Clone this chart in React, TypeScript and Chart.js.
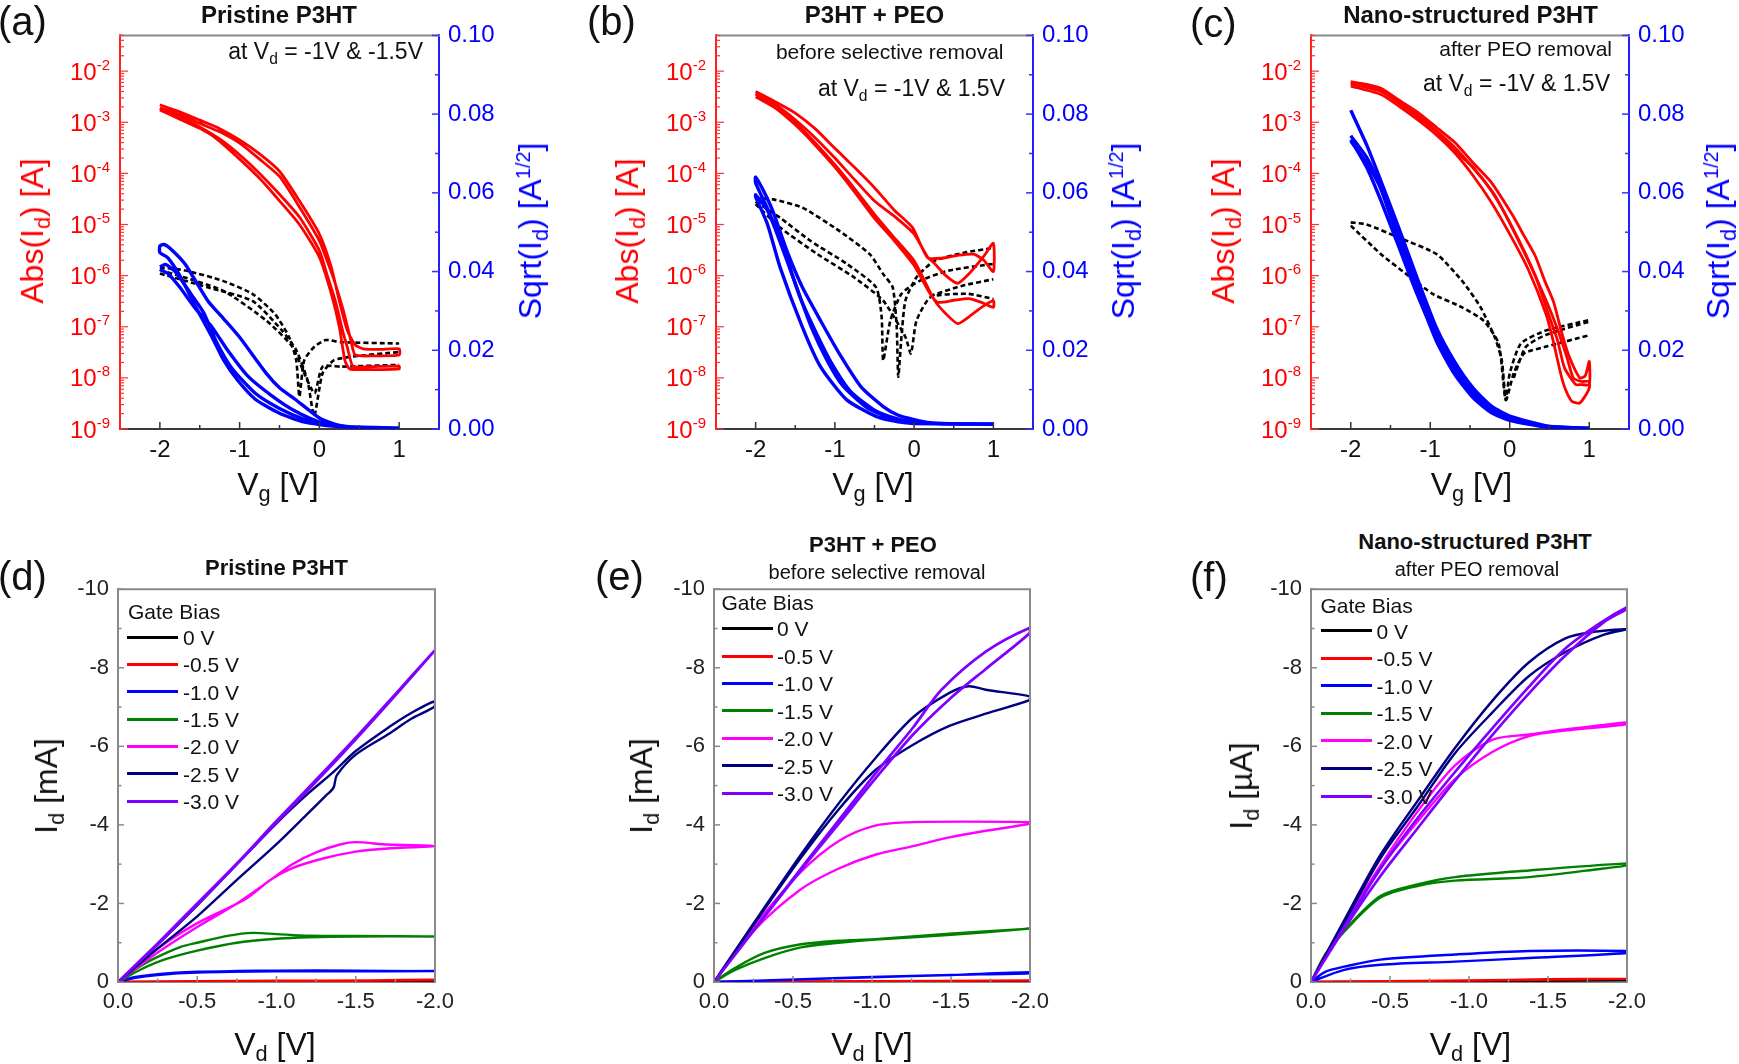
import React, { useEffect, useRef } from "react";
import { Chart, registerables } from "chart.js";

Chart.register(...registerables);

type Pt = [number, number];
const FONT = "'Liberation Sans', Arial, Helvetica, sans-serif";

// ---------------- axis ticks / labels ----------------
const vgTicks = [-2, -1, 0, 1];
const vgMinor = [-1.5, -0.5, 0.5];
const idLogTicks = [1e-9, 1e-8, 1e-7, 1e-6, 1e-5, 1e-4, 1e-3, 1e-2];
const sqrtTicks = [0, 0.02, 0.04, 0.06, 0.08, 0.1];
const sqrtMinor = [0.01, 0.03, 0.05, 0.07, 0.09];
const vdTicks = [0, -0.5, -1, -1.5, -2];
const vdMinor = [-0.25, -0.75, -1.25, -1.75];
const idLinTicks = [0, -2, -4, -6, -8, -10];
const idLinMinor = [-1, -3, -5, -7, -9];
const gateBiasLabels = ["0 V", "-0.5 V", "-1.0 V", "-1.5 V", "-2.0 V", "-2.5 V", "-3.0 V"];
const gateBiasColors = ["#000000", "#ff0000", "#0000ff", "#008000", "#ff00ff", "#000080", "#8000ff"];

// ---------------- (a) Pristine P3HT transfer ----------------
const aRed1: Pt[] = [[-2, 2.2e-3], [-1.75, 1.6e-3], [-1.5, 1.1e-3], [-1.25, 7.5e-4], [-1, 4.5e-4], [-0.75, 2.4e-4], [-0.5, 1.1e-4], [-0.25, 2.9e-5], [0, 6.5e-6], [0.15, 1.45e-6], [0.25, 3.2e-7], [0.35, 8.5e-8], [0.45, 4.4e-8], [0.55, 3.7e-8], [0.75, 3.6e-8], [1, 3.7e-8],
  [1, 2.8e-8], [0.7, 2.7e-8], [0.45, 2.8e-8], [0.4, 5e-8], [0.3, 2.1e-7], [0.2, 6.9e-7], [0.1, 1.9e-6], [0, 4.8e-6], [-0.25, 2.2e-5], [-0.5, 8.7e-5], [-0.75, 1.9e-4], [-1, 3.9e-4], [-1.25, 6.5e-4], [-1.5, 9.5e-4], [-1.75, 1.4e-3], [-2, 1.9e-3]];
const aRed2: Pt[] = [[-2, 1.74e-3], [-1.75, 1.15e-3], [-1.5, 7.6e-4], [-1.3, 4.9e-4], [-1, 1.9e-4], [-0.75, 8e-5], [-0.5, 2.9e-5], [-0.25, 1.0e-5], [0, 2.3e-6], [0.15, 4.4e-7], [0.25, 1.0e-7], [0.32, 2.2e-8], [0.38, 1.5e-8], [0.6, 1.45e-8], [1, 1.5e-8],
  [1, 1.7e-8], [0.6, 1.65e-8], [0.42, 1.7e-8], [0.35, 4e-8], [0.3, 7.4e-8], [0.2, 3.2e-7], [0.1, 1.0e-6], [0, 3.1e-6], [-0.25, 1.4e-5], [-0.5, 3.9e-5], [-0.75, 1.0e-4], [-1, 2.3e-4], [-1.25, 4.7e-4], [-1.5, 8.1e-4], [-1.75, 1.3e-3], [-2, 1.86e-3]];
const aBlue1: Pt[] = [[1, 0.0002], [0.6, 0.0003], [0.4, 0.0005], [0.2, 0.0012], [0, 0.0028], [-0.3, 0.0075], [-0.5, 0.0105], [-0.66, 0.014], [-1, 0.0233], [-1.2, 0.028], [-1.4, 0.0326], [-1.68, 0.0418], [-1.85, 0.0455], [-1.95, 0.0469], [-2, 0.0465],
  [-2, 0.0448], [-1.9, 0.0435], [-1.75, 0.039], [-1.55, 0.031], [-1.35, 0.0235], [-1.2, 0.0175], [-1.03, 0.0125], [-0.8, 0.0075], [-0.5, 0.004], [-0.2, 0.0018], [0.2, 0.0007], [1, 0.0002]];
const aBlue2: Pt[] = [[-2, 0.0412], [-1.93, 0.0418], [-1.8, 0.0398], [-1.6, 0.034], [-1.45, 0.0295], [-1.3, 0.0225], [-1.1, 0.0155], [-0.8, 0.009], [-0.5, 0.0052], [-0.2, 0.0025], [0, 0.0015], [0.5, 0.0003], [1, 0.0002],
  [1, 0.0002], [0.3, 0.0006], [0, 0.0018], [-0.3, 0.0045], [-0.6, 0.0085], [-0.9, 0.0135], [-1.15, 0.02], [-1.35, 0.026], [-1.55, 0.0305], [-1.75, 0.036], [-1.9, 0.0395], [-2, 0.0405]];
const aLeak1: Pt[] = [[-2, 1.45e-6], [-1.68, 1.26e-6], [-1.21, 7.9e-7], [-0.84, 4.4e-7], [-0.56, 1.8e-7], [-0.38, 6.3e-8], [-0.29, 2.2e-8], [-0.25, 4.3e-9], [-0.19, 2.2e-8], [-0.06, 4.1e-8], [0.08, 5.5e-8], [0.27, 5e-8], [1, 4.7e-8]];
const aLeak2: Pt[] = [[-2, 1.1e-6], [-1.4, 5.9e-7], [-0.84, 3.2e-7], [-0.47, 8.5e-8], [-0.29, 3.5e-8], [-0.15, 9.1e-9], [-0.065, 1.8e-9], [0.04, 1.23e-8], [0.18, 2.2e-8], [0.41, 2.6e-8], [1, 3.2e-8]];
const aLeak3: Pt[] = [[-2, 1.3e-6], [-1.21, 5.1e-7], [-0.66, 1.3e-7], [-0.34, 4.1e-8], [-0.19, 1.23e-8], [-0.06, 5e-9], [0.04, 1.66e-8], [0.27, 1.66e-8], [1, 1.8e-8]];

// ---------------- (b) P3HT + PEO transfer ----------------
const bRed1: Pt[] = [[-2, 3.98e-3], [-1.75, 2.5e-3], [-1.5, 1.51e-3], [-1.25, 7.5e-4], [-1, 3.09e-4], [-0.75, 1.3e-4], [-0.5, 5.25e-5], [-0.25, 1.9e-5], [-0.02, 8.7e-6], [0.17, 2.24e-6], [0.35, 2.2e-6], [0.55, 2.5e-6], [0.75, 2.63e-6], [0.88, 2.0e-6], [1, 1.2e-6],
  [1, 4.27e-6], [0.88, 2.4e-6], [0.7, 1.12e-6], [0.55, 7.1e-7], [0.4, 1.0e-6], [0.25, 1.78e-6], [0.17, 2.3e-6], [0, 6.5e-6], [-0.25, 1.45e-5], [-0.5, 2.88e-5], [-0.75, 7.5e-5], [-1, 2.0e-4], [-1.25, 5.0e-4], [-1.5, 1.12e-3], [-1.75, 2.2e-3], [-2, 3.63e-3]];
const bRed2: Pt[] = [[-2, 3.55e-3], [-1.75, 2.1e-3], [-1.5, 1.0e-3], [-1.25, 4.0e-4], [-1, 1.48e-4], [-0.75, 5.0e-5], [-0.5, 1.58e-5], [-0.25, 5.5e-6], [0, 1.95e-6], [0.26, 3.24e-7], [0.4, 1.8e-7], [0.55, 1.15e-7], [0.7, 1.6e-7], [0.85, 2.4e-7], [1, 3.24e-7],
  [1, 2.4e-7], [0.85, 3.0e-7], [0.69, 3.55e-7], [0.5, 3.3e-7], [0.3, 3.0e-7], [0.2, 4.47e-7], [0, 1.58e-6], [-0.25, 4.8e-6], [-0.5, 1.32e-5], [-0.75, 4.3e-5], [-1, 1.32e-4], [-1.25, 3.6e-4], [-1.5, 8.9e-4], [-1.75, 1.9e-3], [-2, 3.16e-3]];
const bBlue1: Pt[] = [[1, 0.0013], [0.5, 0.0013], [0.2, 0.0016], [0, 0.0024], [-0.2, 0.0035], [-0.39, 0.0057], [-0.67, 0.0107], [-0.94, 0.019], [-1.18, 0.0275], [-1.41, 0.036], [-1.6, 0.045], [-1.78, 0.0552], [-1.9, 0.0605], [-2, 0.064],
  [-2, 0.0625], [-1.85, 0.056], [-1.65, 0.046], [-1.45, 0.034], [-1.25, 0.025], [-1.05, 0.017], [-0.8, 0.0095], [-0.5, 0.0048], [-0.2, 0.0025], [0, 0.0018], [0.5, 0.0013], [1, 0.0013]];
const bBlue2: Pt[] = [[1, 0.0012], [0, 0.0016], [-0.3, 0.0028], [-0.6, 0.0055], [-0.9, 0.011], [-1.1, 0.0175], [-1.3, 0.026], [-1.5, 0.037], [-1.7, 0.048], [-1.85, 0.0555], [-2, 0.0595],
  [-2, 0.059], [-1.85, 0.052], [-1.69, 0.041], [-1.41, 0.0259], [-1.18, 0.0158], [-0.85, 0.0074], [-0.48, 0.0032], [-0.2, 0.0018], [0, 0.0014], [1, 0.0012]];
const bLeak1: Pt[] = [[-2, 3.3e-5], [-1.78, 3.1e-5], [-1.41, 2.14e-5], [-0.94, 7.4e-6], [-0.56, 2.63e-6], [-0.39, 1.07e-6], [-0.27, 5.9e-7], [-0.22, 1e-7], [-0.2, 1.05e-8], [-0.16, 6.3e-8], [-0.11, 3.24e-7], [0.03, 9.3e-7], [0.26, 1.95e-6], [0.63, 2.8e-6], [1, 3.5e-6]];
const bLeak2: Pt[] = [[-2, 2.8e-5], [-1.69, 1.35e-5], [-1.31, 4.8e-6], [-0.85, 1.7e-6], [-0.48, 5.9e-7], [-0.41, 1.55e-7], [-0.39, 2.2e-8], [-0.3, 1.32e-7], [-0.16, 4.4e-7], [0.07, 7.9e-7], [0.44, 1.26e-6], [1, 1.7e-6]];
const bLeak3: Pt[] = [[-2, 2.5e-5], [-1.69, 8.7e-6], [-1.22, 2.63e-6], [-0.76, 9.3e-7], [-0.39, 3.24e-7], [-0.11, 6.3e-8], [-0.04, 3.0e-8], [0.03, 1.32e-7], [0.21, 3.8e-7], [0.68, 4.4e-7], [1, 3.5e-7]];
const bLeak4: Pt[] = [[0.2, 4e-7], [0.6, 6.3e-7], [1, 8.5e-7]];

// ---------------- (c) Nano-structured P3HT transfer ----------------
const cRed1: Pt[] = [[-2, 6.2e-3], [-1.8, 5.5e-3], [-1.62, 4.6e-3], [-1.4, 2.75e-3], [-1.16, 1.58e-3], [-0.92, 7.9e-4], [-0.69, 4.0e-4], [-0.46, 1.6e-4], [-0.23, 6.6e-5], [0.04, 1.48e-5], [0.18, 6.0e-6], [0.32, 2.45e-6], [0.44, 7.9e-7], [0.55, 3.1e-7], [0.65, 8e-8], [0.74, 2.8e-8], [0.88, 1.0e-8], [0.95, 1.1e-8], [1, 2.1e-8],
  [1, 7.4e-9], [0.9, 7.4e-9], [0.83, 7.4e-9], [0.69, 1.55e-8], [0.6, 5.5e-8], [0.506, 1.45e-7], [0.32, 1.0e-6], [0.044, 8.1e-6], [-0.23, 4.5e-5], [-0.46, 1.3e-4], [-0.69, 2.8e-4], [-0.92, 6.5e-4], [-1.16, 1.26e-3], [-1.4, 2.4e-3], [-1.62, 4.0e-3], [-2, 5.6e-3]];
const cRed2: Pt[] = [[-2, 5.1e-3], [-1.62, 3.5e-3], [-1.4, 2.1e-3], [-1.16, 1.12e-3], [-0.92, 5.6e-4], [-0.69, 2.5e-4], [-0.46, 9e-5], [-0.23, 2.7e-5], [0, 6.5e-6], [0.23, 1.35e-6], [0.46, 1.7e-7], [0.55, 5e-8], [0.644, 1.15e-8], [0.7, 6e-9], [0.78, 3.5e-9], [0.875, 3.2e-9], [0.94, 4.2e-9], [1, 6.3e-9],
  [1, 8.5e-9], [0.9, 8.5e-9], [0.8, 1.0e-8], [0.72, 2.5e-8], [0.6, 9e-8], [0.45, 3.5e-7], [0.2, 2.5e-6], [-0.2, 4.0e-5], [-0.69, 3.2e-4], [-1.16, 1.4e-3], [-1.62, 4.2e-3], [-2, 5.9e-3]];
const cBlue1: Pt[] = [[-2, 0.081], [-1.8, 0.0722], [-1.62, 0.063], [-1.39, 0.0508], [-1.16, 0.0381], [-0.92, 0.0256], [-0.69, 0.017], [-0.46, 0.0104], [-0.23, 0.0058], [0, 0.0033], [0.46, 0.0008], [1, 0.0002],
  [1, 0.0002], [0.46, 0.0005], [0, 0.0022], [-0.23, 0.0041], [-0.46, 0.0079], [-0.69, 0.0138], [-0.92, 0.0222], [-1.16, 0.0346], [-1.39, 0.0474], [-1.62, 0.0609], [-1.8, 0.0676], [-2, 0.0732]];
const cBlue2: Pt[] = [[-2, 0.0735], [-1.8, 0.0665], [-1.62, 0.058], [-1.39, 0.046], [-1.16, 0.034], [-0.92, 0.023], [-0.69, 0.0148], [-0.46, 0.0088], [-0.23, 0.0048], [0, 0.0026], [0.46, 0.0006], [1, 0.0002],
  [1, 0.0002], [0.46, 0.0007], [0, 0.003], [-0.23, 0.0053], [-0.46, 0.0096], [-0.69, 0.016], [-0.92, 0.0245], [-1.16, 0.0365], [-1.39, 0.0495], [-1.62, 0.0615], [-1.8, 0.069], [-2, 0.0745]];
const cLeak1: Pt[] = [[-2, 1.1e-5], [-1.8, 1e-5], [-1.39, 5.5e-6], [-0.92, 2.63e-6], [-0.6, 7.9e-7], [-0.37, 2.45e-7], [-0.19, 6.3e-8], [-0.1, 2.2e-8], [-0.05, 3.7e-9], [0, 1.23e-8], [0.14, 4.7e-8], [0.46, 8.5e-8], [1, 1.35e-7]];
const cLeak2: Pt[] = [[-2, 9.5e-6], [-1.62, 2.63e-6], [-1.25, 9.3e-7], [-0.97, 4.4e-7], [-0.6, 2.4e-7], [-0.33, 1.32e-7], [-0.14, 4.7e-8], [-0.05, 3.7e-9], [0.05, 1.23e-8], [0.18, 3e-8], [0.46, 4.1e-8], [1, 6.8e-8]];
const cLeak3: Pt[] = [[0.05, 1.0e-8], [0.2, 4.0e-8], [0.46, 7.0e-8], [1, 1.26e-7]];

// ---------------- (d) Pristine P3HT output (mA) ----------------
const dG0: Pt[] = [[0, 0], [-1, -0.01], [-2, -0.015], [-1, -0.01], [0, 0]];
const dG05: Pt[] = [[0, 0], [-0.5, -0.02], [-1, -0.03], [-1.6, -0.04], [-2, -0.06], [-2, -0.05], [-1, -0.02], [0, 0]];
const dG10: Pt[] = [[0, 0], [-0.1, -0.12], [-0.25, -0.2], [-0.5, -0.26], [-0.75, -0.28], [-1, -0.29], [-1.5, -0.29], [-2, -0.28], [-1.5, -0.27], [-1, -0.27], [-0.5, -0.24], [-0.25, -0.18], [-0.1, -0.1], [0, 0]];
const dG15: Pt[] = [[0, 0], [-0.12, -0.35], [-0.23, -0.6], [-0.4, -0.9], [-0.5, -1.0], [-0.7, -1.18], [-0.85, -1.25], [-1, -1.22], [-1.2, -1.18], [-1.5, -1.17], [-2, -1.16],
  [-1.5, -1.16], [-1.2, -1.14], [-1, -1.1], [-0.75, -1.0], [-0.5, -0.8], [-0.3, -0.58], [-0.15, -0.33], [0, 0]];
const dG20: Pt[] = [[0, 0], [-0.25, -0.75], [-0.5, -1.4], [-0.75, -2.0], [-0.97, -2.62], [-1.1, -3.0], [-1.25, -3.3], [-1.4, -3.5], [-1.5, -3.56], [-1.7, -3.5], [-2, -3.46],
  [-1.7, -3.4], [-1.5, -3.32], [-1.3, -3.15], [-1.1, -2.9], [-0.97, -2.62], [-0.8, -2.1], [-0.5, -1.5], [-0.25, -0.85], [0, 0]];
const dG25: Pt[] = [[0, 0], [-0.25, -0.85], [-0.5, -1.67], [-0.75, -2.6], [-1, -3.51], [-1.2, -4.3], [-1.31, -4.74], [-1.36, -4.95], [-1.38, -5.26], [-1.5, -5.79], [-1.71, -6.32], [-1.85, -6.7], [-2, -7.02],
  [-2, -7.15], [-1.85, -6.85], [-1.71, -6.49], [-1.5, -5.88], [-1.36, -5.35], [-1.2, -4.8], [-1, -4.04], [-0.75, -3.0], [-0.5, -1.95], [-0.25, -0.95], [0, 0]];
const dG30: Pt[] = [[0, 0], [-0.25, -0.98], [-0.5, -2.0], [-0.75, -3.02], [-1, -4.1], [-1.25, -5.15], [-1.5, -6.22], [-1.75, -7.33], [-2, -8.45],
  [-1.75, -7.3], [-1.5, -6.18], [-1.25, -5.1], [-1, -4.06], [-0.75, -3.0], [-0.5, -1.97], [-0.25, -0.96], [0, 0]];

// ---------------- (e) P3HT + PEO output (mA) ----------------
const eG0: Pt[] = [[0, 0], [-1, -0.01], [-2, -0.01], [-1, -0.01], [0, 0]];
const eG05: Pt[] = [[0, 0], [-1, -0.02], [-2, -0.04], [-1, -0.02], [0, 0]];
const eG10: Pt[] = [[0, 0], [-0.32, -0.04], [-1, -0.13], [-1.5, -0.18], [-2, -0.22], [-2, -0.25], [-1.5, -0.18], [-1, -0.12], [-0.32, -0.04], [0, 0]];
const eG15: Pt[] = [[0, 0], [-0.13, -0.35], [-0.32, -0.74], [-0.55, -0.96], [-0.79, -1.05], [-1.02, -1.09], [-1.49, -1.23], [-2, -1.36],
  [-1.5, -1.2], [-1.02, -1.08], [-0.79, -1.0], [-0.55, -0.88], [-0.32, -0.61], [-0.13, -0.3], [0, 0]];
const eG20: Pt[] = [[0, 0], [-0.25, -1.4], [-0.55, -2.8], [-0.79, -3.59], [-1.02, -3.98], [-1.26, -4.07], [-2, -4.07],
  [-2, -4.03], [-1.72, -3.85], [-1.49, -3.68], [-1.26, -3.46], [-1.02, -3.24], [-0.79, -2.89], [-0.55, -2.36], [-0.25, -1.3], [0, 0]];
const eG25: Pt[] = [[0, 0], [-0.25, -1.49], [-0.55, -3.24], [-0.79, -4.55], [-1.02, -5.69], [-1.26, -6.74], [-1.49, -7.36], [-1.61, -7.53], [-1.72, -7.44], [-2, -7.27],
  [-2, -7.18], [-1.72, -6.83], [-1.49, -6.52], [-1.26, -6.04], [-1.02, -5.39], [-0.79, -4.4], [-0.55, -3.16], [-0.25, -1.45], [0, 0]];
const eG30: Pt[] = [[0, 0], [-0.25, -1.31], [-0.55, -2.89], [-0.79, -4.12], [-1.02, -5.3], [-1.26, -6.48], [-1.44, -7.44], [-1.72, -8.41], [-2, -9.02],
  [-2, -8.89], [-1.72, -7.97], [-1.49, -7.2], [-1.26, -6.3], [-1.02, -5.17], [-0.79, -4.03], [-0.55, -2.85], [-0.25, -1.3], [0, 0]];

// ---------------- (f) Nano-structured P3HT output (uA) ----------------
const fG0: Pt[] = [[0, 0], [-1.4, -0.03], [-2, -0.05], [-1, -0.02], [0, 0]];
const fG05: Pt[] = [[0, 0], [-1, -0.04], [-1.5, -0.07], [-2, -0.08], [-1, -0.04], [0, 0]];
const fG10: Pt[] = [[0, 0], [-0.09, -0.26], [-0.21, -0.39], [-0.44, -0.57], [-0.91, -0.7], [-1.38, -0.79], [-2, -0.79],
  [-2, -0.74], [-1.38, -0.61], [-0.91, -0.52], [-0.44, -0.44], [-0.21, -0.31], [0, 0]];
const fG15: Pt[] = [[0, 0], [-0.09, -0.7], [-0.21, -1.31], [-0.44, -2.19], [-0.68, -2.49], [-0.91, -2.67], [-1.38, -2.84], [-2, -3.02],
  [-2, -2.97], [-1.85, -2.89], [-1.38, -2.67], [-0.91, -2.58], [-0.68, -2.45], [-0.44, -2.15], [-0.21, -1.28], [-0.09, -0.68], [0, 0]];
const fG20: Pt[] = [[0, 0], [-0.21, -1.49], [-0.44, -2.97], [-0.68, -4.37], [-0.91, -5.51], [-1.15, -6.17], [-1.38, -6.3], [-1.61, -6.43], [-2, -6.61],
  [-2, -6.56], [-1.61, -6.4], [-1.38, -6.26], [-1.15, -5.86], [-0.91, -5.16], [-0.68, -4.11], [-0.44, -2.89], [-0.21, -1.45], [0, 0]];
const fG25: Pt[] = [[0, 0], [-0.21, -1.57], [-0.44, -3.24], [-0.68, -4.64], [-0.91, -5.95], [-1.15, -7.17], [-1.38, -8.14], [-1.61, -8.75], [-1.8, -8.92], [-2, -8.98],
  [-1.85, -8.84], [-1.61, -8.4], [-1.38, -7.79], [-1.15, -6.87], [-0.91, -5.82], [-0.68, -4.5], [-0.44, -3.15], [-0.21, -1.5], [0, 0]];
const fG30: Pt[] = [[0, 0], [-0.21, -1.4], [-0.44, -2.89], [-0.68, -4.2], [-0.91, -5.34], [-1.15, -6.47], [-1.38, -7.52], [-1.61, -8.49], [-1.85, -9.19], [-2, -9.54],
  [-2, -9.5], [-1.85, -9.15], [-1.61, -8.31], [-1.38, -7.35], [-1.15, -6.3], [-0.91, -5.12], [-0.68, -3.94], [-0.44, -2.7], [-0.21, -1.35], [0, 0]];

// ---------------- layout ----------------
const ML = 110, MT = 20, MB = 45, MR_TOP = 100, MR_BOT = 40;
type Plot = { x: number; y: number; w: number; h: number };
const topPlots: Plot[] = [
  { x: 120, y: 32, w: 319, h: 397 },
  { x: 716, y: 32, w: 317, h: 397 },
  { x: 1311, y: 32, w: 318, h: 397 },
];
const botPlots: Plot[] = [
  { x: 118, y: 587, w: 317, h: 395 },
  { x: 714, y: 587, w: 316, h: 395 },
  { x: 1311, y: 587, w: 316, h: 395 },
];

const xy = (p: Pt[]) => p.map(([x, y]) => ({ x, y }));
const setTicks = (vals: number[]) => (s: any) => { s.ticks = vals.map((value) => ({ value })); };
const fixW = (w: number) => (s: any) => { s.width = w; };
const fixH = (h: number) => (s: any) => { s.height = h; };

const decorPlugin = {
  id: "decor",
  afterDraw(chart: any, _a: any, opts: any) {
    const ctx = chart.ctx;
    const ca = chart.chartArea;
    ctx.save();
    ctx.lineCap = "butt";
    for (const f of opts.frame || []) {
      ctx.strokeStyle = f.color;
      ctx.lineWidth = f.width;
      ctx.beginPath();
      if (f.edge === "top") { ctx.moveTo(ca.left - 1, ca.top); ctx.lineTo(ca.right + 1, ca.top); }
      else { ctx.moveTo(ca.right, ca.top); ctx.lineTo(ca.right, ca.bottom); }
      ctx.stroke();
    }
    for (const t of opts.marks || []) {
      const s = chart.scales[t.scale];
      ctx.strokeStyle = t.color;
      ctx.lineWidth = t.width;
      const draw = (vals: number[], len: number) => {
        for (const v of vals) {
          const p = s.getPixelForValue(v);
          ctx.beginPath();
          if (t.edge === "bottom") { ctx.moveTo(p, ca.bottom); ctx.lineTo(p, ca.bottom - len); }
          else if (t.edge === "left") { ctx.moveTo(ca.left, p); ctx.lineTo(ca.left + len, p); }
          else { ctx.moveTo(ca.right, p); ctx.lineTo(ca.right - len, p); }
          ctx.stroke();
        }
      };
      draw(t.major, t.majorLen);
      draw(t.minor, t.minorLen);
    }
    const ll = opts.logLabels;
    if (ll) {
      const s = chart.scales[ll.scale];
      ctx.fillStyle = ll.color;
      ctx.textAlign = "right";
      ctx.textBaseline = "alphabetic";
      for (const tk of s.ticks) {
        const y = s.getPixelForValue(tk.value);
        const exp = String(Math.round(Math.log10(tk.value)));
        const xr = ca.left - ll.gap;
        ctx.font = `${ll.supSize}px ${FONT}`;
        const w = ctx.measureText(exp).width;
        ctx.fillText(exp, xr, y + ll.supDy);
        ctx.font = `${ll.size}px ${FONT}`;
        ctx.fillText("10", xr - w, y + ll.baseDy);
      }
    }
    ctx.restore();
  },
};

function logMinor(): number[] {
  const out: number[] = [];
  for (const d of idLogTicks) for (let m = 2; m <= 9; m++) if (d * m <= 0.05) out.push(d * m);
  return out;
}

function transferConfig(red: Pt[][], blue: Pt[][], black: Pt[][]): any {
  const line = (d: Pt[], color: string, axis: string, width: number, dash: number[] = []) => ({
    data: xy(d), yAxisID: axis, borderColor: color, backgroundColor: color, borderWidth: width,
    borderDash: dash, showLine: true, pointRadius: 0, tension: 0.2, fill: false,
  });
  const datasets = [
    ...blue.map((d) => line(d, "#0000ff", "y2", 3.4)),
    ...red.map((d) => line(d, "#ff0000", "y", 2.8)),
    ...black.map((d) => line(d, "#000000", "y", 2.6, [5, 3])),
  ];
  return {
    type: "scatter",
    data: { datasets },
    options: {
      responsive: false, animation: false, devicePixelRatio: 1,
      layout: { padding: { top: MT, left: 0, right: 0, bottom: 0 } },
      plugins: {
        legend: { display: false }, tooltip: { enabled: false }, title: { display: false },
        decor: {
          frame: [{ edge: "top", color: "#8a8a8a", width: 2 }],
          marks: [
            { scale: "x", edge: "bottom", major: vgTicks, minor: vgMinor, majorLen: 7, minorLen: 4, color: "#333333", width: 1.5 },
            { scale: "y", edge: "left", major: idLogTicks, minor: logMinor(), majorLen: 8, minorLen: 4, color: "#ff3333", width: 1.2 },
            { scale: "y2", edge: "right", major: sqrtTicks, minor: sqrtMinor, majorLen: 7, minorLen: 4, color: "#3333ff", width: 1.5 },
          ],
          logLabels: { scale: "y", color: "#ff0000", size: 24, supSize: 15, gap: 10, baseDy: 8.5, supDy: -1.5 },
        },
      },
      scales: {
        x: {
          type: "linear", position: "bottom", min: -2.5, max: 1.5,
          afterBuildTicks: setTicks(vgTicks), afterFit: fixH(MB),
          grid: { display: false, drawTicks: false },
          border: { display: true, color: "#3a3a3a", width: 2 },
          ticks: { autoSkip: false, maxRotation: 0, padding: 7, color: "#111111", font: { family: FONT, size: 24 }, callback: (v: any) => String(v) },
        },
        y: {
          type: "logarithmic", position: "left", min: 1e-9, max: 0.05,
          afterBuildTicks: setTicks(idLogTicks), afterFit: fixW(ML),
          grid: { display: false, drawTicks: false },
          border: { display: true, color: "#ff2020", width: 2 },
          ticks: { display: false },
        },
        y2: {
          type: "linear", position: "right", min: 0, max: 0.1,
          afterBuildTicks: setTicks(sqrtTicks), afterFit: fixW(MR_TOP),
          grid: { display: false, drawTicks: false },
          border: { display: true, color: "#2020ff", width: 2 },
          ticks: { autoSkip: false, padding: 9, color: "#0000ff", font: { family: FONT, size: 24 }, callback: (v: any) => Number(v).toFixed(2) },
        },
      },
    },
    plugins: [decorPlugin],
  };
}

function outputConfig(curves: Pt[][]): any {
  const datasets = curves.map((d, i) => ({
    data: xy(d), borderColor: gateBiasColors[i], backgroundColor: gateBiasColors[i],
    borderWidth: i === 6 ? 2.7 : 2.4, showLine: true, pointRadius: 0, tension: 0.3, fill: false,
  })).reverse();
  return {
    type: "scatter",
    data: { datasets },
    options: {
      responsive: false, animation: false, devicePixelRatio: 1,
      layout: { padding: { top: MT, left: 0, right: MR_BOT, bottom: 0 } },
      plugins: {
        legend: { display: false }, tooltip: { enabled: false }, title: { display: false },
        decor: {
          frame: [{ edge: "top", color: "#8a8a8a", width: 2 }, { edge: "right", color: "#8a8a8a", width: 2 }],
          marks: [
            { scale: "x", edge: "bottom", major: vdTicks, minor: vdMinor, majorLen: 6, minorLen: 3.5, color: "#8a8a8a", width: 1.5 },
            { scale: "y", edge: "left", major: idLinTicks, minor: idLinMinor, majorLen: 6, minorLen: 3.5, color: "#8a8a8a", width: 1.5 },
          ],
        },
      },
      scales: {
        x: {
          type: "linear", position: "bottom", min: -2, max: 0, reverse: true,
          afterBuildTicks: setTicks(vdTicks), afterFit: fixH(MB),
          grid: { display: false, drawTicks: false },
          border: { display: true, color: "#8a8a8a", width: 2 },
          ticks: { autoSkip: false, maxRotation: 0, padding: 7, color: "#222222", font: { family: FONT, size: 22 }, callback: (v: any) => Number(v).toFixed(1) },
        },
        y: {
          type: "linear", position: "left", min: -10, max: 0, reverse: true,
          afterBuildTicks: setTicks(idLinTicks), afterFit: fixW(ML),
          grid: { display: false, drawTicks: false },
          border: { display: true, color: "#8a8a8a", width: 2 },
          ticks: { autoSkip: false, padding: 9, color: "#222222", font: { family: FONT, size: 22 }, callback: (v: any) => String(v) },
        },
      },
    },
    plugins: [decorPlugin],
  };
}

function ChartBox({ plot, mr, make }: { plot: Plot; mr: number; make: () => any }) {
  const ref = useRef<HTMLCanvasElement | null>(null);
  const W = plot.w + ML + mr;
  const H = plot.h + MT + MB;
  useEffect(() => {
    const chart = new Chart(ref.current as HTMLCanvasElement, make());
    return () => chart.destroy();
  }, []);
  return (
    <canvas ref={ref} width={W} height={H}
      style={{ position: "absolute", left: plot.x - ML, top: plot.y - MT, width: W, height: H }} />
  );
}

// ---------------- text helpers ----------------
function T(props: { x: number; y: number; size: number; children: any; align?: string; bold?: boolean; color?: string; rotate?: boolean }) {
  const { x, y, size, children, align = "left", bold = false, color = "#111", rotate = false } = props;
  const style: any = {
    position: "absolute", left: x, top: y, fontFamily: FONT, fontSize: size, lineHeight: 1,
    whiteSpace: "nowrap", color, fontWeight: bold ? 700 : 400,
  };
  if (rotate) style.transform = "translate(-50%, -50%) rotate(-90deg)";
  else if (align === "center") style.transform = "translateX(-50%)";
  else if (align === "right") style.transform = "translateX(-100%)";
  return <div style={style}>{children}</div>;
}
const Sub = ({ children }: any) => <span style={{ fontSize: "0.68em", position: "relative", top: "0.3em" }}>{children}</span>;
const Sup = ({ children }: any) => <span style={{ fontSize: "0.62em", position: "relative", top: "-0.55em" }}>{children}</span>;

function GateLegend({ left, titleTop, lineLeft, firstY, step, labelLeft }: any) {
  return (
    <>
      <T x={left} y={titleTop} size={21}>Gate Bias</T>
      {gateBiasLabels.map((lab, i) => (
        <React.Fragment key={lab}>
          <div style={{ position: "absolute", left: lineLeft, top: firstY + i * step - 1.5, width: 51, height: 3, background: gateBiasColors[i] }} />
          <T x={labelLeft} y={firstY + i * step - 10.2} size={21}>{lab}</T>
        </React.Fragment>
      ))}
    </>
  );
}

export default function App() {
  const RED = "#ff0000";
  const BLUE = "#0000ff";
  return (
    <div style={{ position: "absolute", left: 0, top: 0, width: 1739, height: 1064, background: "#ffffff", overflow: "hidden" }}>
      <ChartBox plot={topPlots[0]} mr={MR_TOP} make={() => transferConfig([aRed1, aRed2], [aBlue1, aBlue2], [aLeak1, aLeak2, aLeak3])} />
      <ChartBox plot={topPlots[1]} mr={MR_TOP} make={() => transferConfig([bRed1, bRed2], [bBlue1, bBlue2], [bLeak1, bLeak2, bLeak3, bLeak4])} />
      <ChartBox plot={topPlots[2]} mr={MR_TOP} make={() => transferConfig([cRed1, cRed2], [cBlue1, cBlue2], [cLeak1, cLeak2, cLeak3])} />
      <ChartBox plot={botPlots[0]} mr={MR_BOT} make={() => outputConfig([dG0, dG05, dG10, dG15, dG20, dG25, dG30])} />
      <ChartBox plot={botPlots[1]} mr={MR_BOT} make={() => outputConfig([eG0, eG05, eG10, eG15, eG20, eG25, eG30])} />
      <ChartBox plot={botPlots[2]} mr={MR_BOT} make={() => outputConfig([fG0, fG05, fG10, fG15, fG20, fG25, fG30])} />

      {/* panel labels */}
      <T x={-2} y={1} size={40}>(a)</T>
      <T x={587} y={1} size={40}>(b)</T>
      <T x={1190} y={3} size={40}>(c)</T>
      <T x={-2} y={556} size={40}>(d)</T>
      <T x={595} y={556} size={40}>(e)</T>
      <T x={1190} y={557} size={40}>(f)</T>

      {/* top titles & notes */}
      <T x={279} y={3} size={24} bold align="center">Pristine P3HT</T>
      <T x={874.5} y={3} size={24} bold align="center">P3HT + PEO</T>
      <T x={1470.5} y={3} size={24} bold align="center">Nano-structured P3HT</T>
      <T x={423} y={40} size={23} align="right">at V<Sub>d</Sub> = -1V &amp; -1.5V</T>
      <T x={1003.5} y={40.5} size={21} align="right">before selective removal</T>
      <T x={1005} y={77} size={23} align="right">at V<Sub>d</Sub> = -1V &amp; 1.5V</T>
      <T x={1612} y={37.5} size={21} align="right">after PEO removal</T>
      <T x={1610} y={72} size={23} align="right">at V<Sub>d</Sub> = -1V &amp; 1.5V</T>

      {/* top axis titles */}
      {[278, 873, 1471.5].map((cx) => (
        <T key={"vg" + cx} x={cx} y={467.5} size={32} align="center">V<Sub>g</Sub> [V]</T>
      ))}
      {[31.5, 627, 1223].map((cx) => (
        <T key={"abs" + cx} x={cx} y={231} size={32} rotate color={RED}>Abs(I<Sub>d</Sub>) [A]</T>
      ))}
      {[530, 1123, 1718].map((cx) => (
        <T key={"sq" + cx} x={cx} y={231} size={32} rotate color={BLUE}>Sqrt(I<Sub>d</Sub>) [A<Sup>1/2</Sup>]</T>
      ))}

      {/* bottom titles */}
      <T x={276.5} y={557} size={22} bold align="center">Pristine P3HT</T>
      <T x={873} y={534} size={22} bold align="center">P3HT + PEO</T>
      <T x={877} y={562} size={20} align="center">before selective removal</T>
      <T x={1475} y={531} size={22} bold align="center">Nano-structured P3HT</T>
      <T x={1477} y={558.5} size={20} align="center">after PEO removal</T>

      {/* bottom axis titles */}
      {[275, 872, 1470.5].map((cx) => (
        <T key={"vd" + cx} x={cx} y={1027.5} size={32} align="center">V<Sub>d</Sub> [V]</T>
      ))}
      <T x={45.5} y={786} size={32} rotate>I<Sub>d</Sub> [mA]</T>
      <T x={640.5} y={786} size={32} rotate>I<Sub>d</Sub> [mA]</T>
      <T x={1240.5} y={786} size={32} rotate>I<Sub>d</Sub> [µA]</T>

      {/* legends */}
      <GateLegend left={128} titleTop={600.5} lineLeft={127} firstY={637.3} step={27.33} labelLeft={183} />
      <GateLegend left={721.5} titleTop={592} lineLeft={721.5} firstY={628.6} step={27.43} labelLeft={777} />
      <GateLegend left={1320.5} titleTop={594.6} lineLeft={1320.5} firstY={630.7} step={27.55} labelLeft={1376.5} />
    </div>
  );
}
